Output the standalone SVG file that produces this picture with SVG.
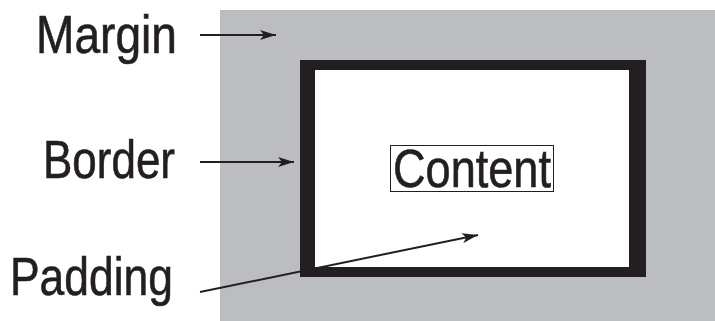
<svg xmlns="http://www.w3.org/2000/svg" width="715" height="321" viewBox="0 0 715 321">
<style>
.lbl{font-family:"Liberation Sans",Arial,sans-serif;font-size:53px;fill:#231f20;stroke:#231f20;stroke-width:0.6}
.con{stroke:#231f20;stroke-width:2;fill:none}
</style>
<defs>
<marker id="ah" viewBox="0 0 16 10" refX="16" refY="5" markerWidth="16" markerHeight="10" markerUnits="userSpaceOnUse" orient="auto">
<path d="M0,0 L16,5 L0,10 L4,5 Z" fill="#231f20"/>
</marker>
</defs>
<rect width="715" height="321" fill="#ffffff"/>
<g id="margin-box"><rect x="220" y="10" width="495" height="311" fill="#bcbdc1"/></g>
<g id="border-box"><rect x="300" y="60" width="346" height="217" fill="#231f20"/></g>
<g id="padding-box"><rect x="315" y="70" width="314" height="197" fill="#ffffff"/></g>
<g id="content">
<rect x="390.5" y="145.5" width="163" height="46" fill="none" stroke="#231f20" stroke-width="1"/>
<text class="lbl" x="393" y="187" textLength="158" lengthAdjust="spacingAndGlyphs">Content</text>
</g>
<g id="label-margin"><text class="lbl" x="36" y="53" textLength="141" lengthAdjust="spacingAndGlyphs">Margin</text></g>
<g id="label-border"><text class="lbl" x="43" y="178" textLength="132" lengthAdjust="spacingAndGlyphs">Border</text></g>
<g id="label-padding"><text class="lbl" x="10" y="295" textLength="163" lengthAdjust="spacingAndGlyphs">Padding</text></g>
<g id="connectors">
<line class="con" x1="200" y1="35" x2="276" y2="35" marker-end="url(#ah)"/>
<line class="con" x1="200" y1="162" x2="294" y2="162" marker-end="url(#ah)"/>
<line class="con" x1="200" y1="292" x2="478" y2="235" marker-end="url(#ah)"/>
</g>
</svg>
